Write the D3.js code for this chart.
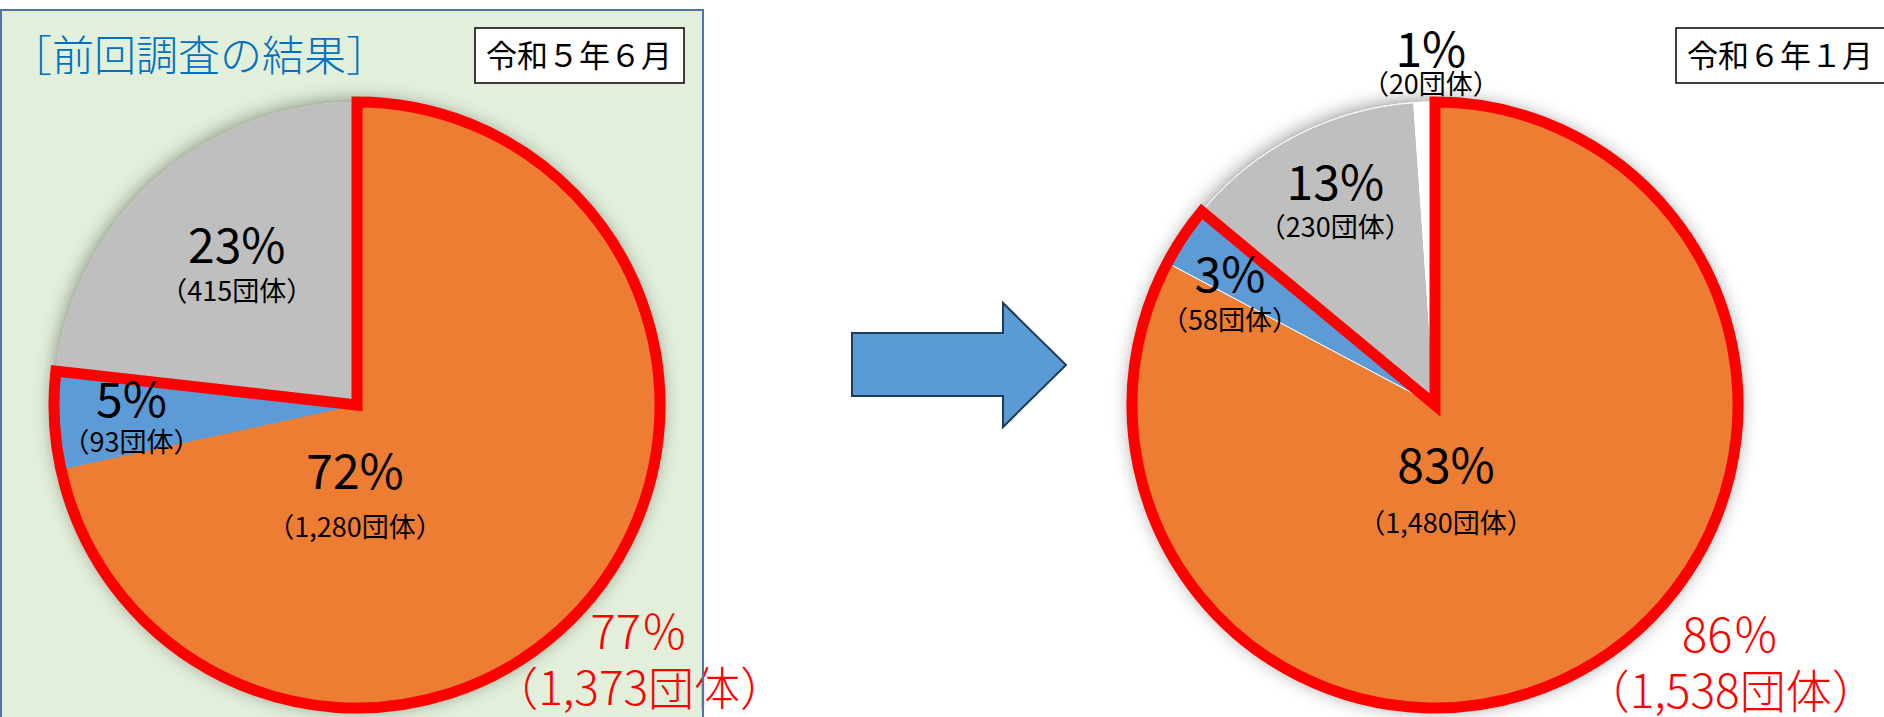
<!DOCTYPE html>
<html>
<head>
<meta charset="utf-8">
<script src="https://cdn.jsdelivr.net/npm/d3@7"></script>
<style>
  body { margin: 0; background: #fff; }
  svg { display: block; }
  text { font-family: "Noto Sans CJK JP", "Noto Sans", sans-serif; }
</style>
</head>
<body>
<script>
// ---- data ----
var periods = ["令和５年６月", "令和６年１月"];
var panelTitle = "［前回調査の結果］";
var categories = ["区分1", "区分2", "区分3", "区分4"];
var countsJun2023 = [1280, 93, 415];
var countsJan2024 = [1480, 58, 230, 20];
var unit = "団体";
var highlightCats = 2; // first two categories are outlined in red

// ---- layout ----
var width = 1884, height = 717, R = 303;
// label placement: [angle deg (clockwise from top), distance as share of R, line gap]
var labelsJun = [[181.2, 0.312, 55], [265.9, 0.746, 42], [318.6, 0.60, 46]];
var labelsJan = [[173, 0.298, 57], [297.7, 0.764, 45], [333.5, 0.737, 44], [359.3, 1.116, 35]];

var svg = d3.select("body").append("svg")
  .attr("width", width)
  .attr("height", height);

var defs = svg.append("defs");
var glow = defs.append("filter").attr("id", "glow")
  .attr("x", "-20%").attr("y", "-20%").attr("width", "140%").attr("height", "140%");
glow.append("feGaussianBlur").attr("in", "SourceAlpha").attr("stdDeviation", 10);
glow.append("feComponentTransfer").append("feFuncA").attr("type", "linear").attr("slope", 0.5);
var merge = glow.append("feMerge");
merge.append("feMergeNode");
merge.append("feMergeNode").attr("in", "SourceGraphic");

var color = d3.scaleOrdinal()
  .domain(categories)
  .range(["#ED7D31", "#5B9BD5", "#BFBFBF", "#FFFFFF"]);

var pie = d3.pie().sort(null).value(function(d){ return d.value });
var arc = d3.arc().innerRadius(0).outerRadius(R);
var pct = d3.format(".0%");
var num = d3.format(",");

function polar(deg, dist) {
  var a = deg * Math.PI / 180;
  return [Math.sin(a) * dist, -Math.cos(a) * dist];
}

// left panel background
var panel = svg.append("g");
panel.append("rect")
  .attr("x", 1).attr("y", 10)
  .attr("width", 702).attr("height", height)
  .attr("fill", "#E2EFDA");

panel.append("text")
  .attr("x", 10).attr("y", 71)
  .attr("font-size", 42)
  .attr("font-weight", 300)
  .attr("fill", "#0070C0")
  .text(panelTitle);

function drawPie(cx, cy, counts, place, sliceStroke, totalPlace) {
  var data = counts.map(function(v, i){ return {cat: categories[i], value: v} });
  var total = d3.sum(counts);
  var arcs = pie(data);

  var g = svg.append("g").attr("transform", "translate(" + cx + "," + cy + ")");

  // slices
  g.append("g")
    .attr("filter", "url(#glow)")
    .selectAll("path")
    .data(arcs)
    .enter()
    .append("path")
      .attr("d", arc)
      .attr("fill", function(d){ return color(d.data.cat) })
      .attr("stroke", sliceStroke)
      .attr("stroke-width", 1);

  // red outline around highlighted categories
  var hl = arcs[highlightCats - 1];
  g.append("path")
    .attr("d", arc({startAngle: 0, endAngle: hl.endAngle}))
    .attr("fill", "none")
    .attr("stroke", "#FF0000")
    .attr("stroke-width", 11);

  // slice labels
  var lab = g.selectAll(".lab")
    .data(arcs)
    .enter()
    .append("g")
      .attr("class", "lab")
      .attr("transform", function(d, i){
        var p = polar(place[i][0], place[i][1] * R);
        return "translate(" + p[0] + "," + p[1] + ")";
      });
  lab.append("text")
    .attr("text-anchor", "middle")
    .attr("y", function(d, i){ return -place[i][2] / 2 })
    .attr("dy", "0.36em")
    .attr("font-size", 48)
    .attr("fill", "#000")
    .text(function(d){ return pct(d.value / total) });
  lab.append("text")
    .attr("text-anchor", "middle")
    .attr("y", function(d, i){ return place[i][2] / 2 })
    .attr("dy", "0.36em")
    .attr("font-size", 27)
    .attr("fill", "#000")
    .text(function(d){ return "（" + num(d.value) + unit + "）" });

  // highlighted total
  var hv = d3.sum(counts.slice(0, highlightCats));
  var tp = polar(totalPlace[0], totalPlace[1] * R);
  var tg = g.append("g").attr("transform", "translate(" + tp[0] + "," + tp[1] + ")");
  tg.append("text")
    .attr("text-anchor", "middle")
    .attr("y", -29).attr("dy", "0.36em")
    .attr("font-size", 47)
    .attr("font-weight", 300)
    .attr("fill", "#FF0000")
    .text(pct(hv / total).replace("%", "％"));
  tg.append("text")
    .attr("text-anchor", "middle")
    .attr("y", 28).attr("dy", "0.36em")
    .attr("font-size", 46)
    .attr("font-weight", 300)
    .attr("fill", "#FF0000")
    .text("（" + num(hv) + unit + "）");
}

drawPie(357, 405, countsJun2023, labelsJun, "none", [132.2, 1.257]);
drawPie(1435, 405, countsJan2024, labelsJan, "#FFFFFF", [131.2, 1.297]);

// period boxes
var boxes = svg.selectAll(".period")
  .data(periods)
  .enter()
  .append("g")
    .attr("class", "period")
    .attr("transform", function(d, i){ return "translate(" + [475, 1676][i] + ",28)" });
boxes.append("rect")
  .attr("width", 209).attr("height", 55)
  .attr("fill", "#fff")
  .attr("stroke", "#000")
  .attr("stroke-width", 1.5);
boxes.append("text")
  .attr("x", 104).attr("y", 28).attr("dy", "0.36em")
  .attr("text-anchor", "middle")
  .attr("font-size", 31)
  .attr("fill", "#000")
  .text(function(d){ return d });

// left panel border drawn on top
svg.append("rect")
  .attr("x", 1).attr("y", 10)
  .attr("width", 702).attr("height", height)
  .attr("fill", "none")
  .attr("stroke", "#4F76A0")
  .attr("stroke-width", 2);

// arrow between the two charts
var arrowPts = [[852, 333], [1003, 333], [1003, 303], [1066, 365], [1003, 427], [1003, 396], [852, 396]];
svg.append("path")
  .attr("d", d3.line()(arrowPts) + "Z")
  .attr("fill", "#5B9BD5")
  .attr("stroke", "#1F3A5A")
  .attr("stroke-width", 2);
</script>
</body>
</html>
